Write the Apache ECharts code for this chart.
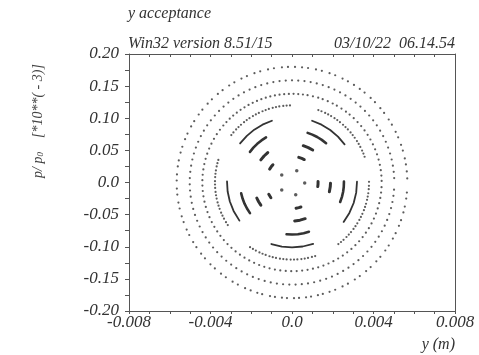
<!DOCTYPE html>
<html>
<head>
<meta charset="utf-8">
<script src="https://cdn.jsdelivr.net/npm/echarts@6/dist/echarts.min.js"></script>
<style>
  html, body { margin: 0; padding: 0; background: #fff; }
  #chart { width: 479px; height: 355px; }
</style>
</head>
<body>
<div id="chart"></div>
<script>
// Tracked particles in vertical phase space: one amplitude per ring.
// Ring amplitudes (y in m, p in units of 1e-3).
const ampY = [0.000623, 0.00128, 0.00189, 0.00255, 0.00319, 0.00378, 0.00440, 0.00502, 0.00566];
const ampP = [0.0198, 0.0405, 0.0599, 0.0810, 0.1010, 0.1200, 0.1380, 0.1590, 0.1800];

// Phase angles (degrees) of the turn-by-turn points.
const ring1Dots = [358, 68, 144, 216, 287];
const ring2Arcs = [[207, 211.5, 216], [279, 285, 290], [351, 356.5, 362], [62, 68, 75], [137, 143, 149]];
const ring3Arcs = [[204, 210, 216], [274, 282, 290], [346, 353.5, 359], [57.5, 65, 73], [129, 136.5, 144]];
const ring4Arcs = [[192, 198, 204, 210, 216], [264, 270, 276.5, 283, 289], [338, 344, 349.5, 355, 361], [49, 55, 61, 67, 72.5], [120, 126, 132, 138, 144]];
const ring5Arcs = [[179, 188, 197, 206, 216], [251.5, 261, 270, 279.5, 289], [322.6, 332, 341.6, 351, 360.7], [36, 45, 54, 63, 72], [108, 117, 125.5, 134, 143]];
const ring6Dots = [
  163, 165.5, 168, 171, 173.5, 176, 179, 181.5, 184, 187, 189.5, 192, 195, 197.5, 200, 203, 205.5, 208, 211, 213.5,
  237, 239.5, 242, 245, 247.5, 250, 253, 255.5, 258, 261, 263.5, 266, 269, 271.5, 274, 277, 279.5, 282, 285, 287.5,
  307, 309.5, 312, 315, 317.5, 320, 323, 325.5, 328, 331, 333.5, 336, 339, 341.5, 344, 347, 349.5, 352, 355, 357.5, 0.5,
  19.5, 22, 24.5, 27.5, 30, 32.5, 35.5, 38, 40.5, 43.5, 46, 48.5, 51.5, 54, 56.5, 59.5, 62, 64.5, 67.5, 70,
  91.5, 94, 96.5, 99.5, 102, 104.5, 107.5, 110, 112.5, 115.5, 118, 120.5, 123.5, 126, 128.5, 131.5, 134, 136.5, 139.5, 142
];
const ring7Dots = [
  1, 4.5, 8, 11.5, 15, 18.5, 22, 25.5, 29, 32.5, 36, 39.5, 43, 46.5, 50, 53, 56.5, 60, 63, 66.5,
  70, 73, 76.5, 80, 83, 86, 89, 92, 95, 98, 101, 104, 107, 110, 113, 116, 119, 122, 125, 128,
  131, 134, 137, 140, 143.5, 147, 150.5, 154, 157.5, 161, 164.5, 168, 171.5, 175, 178.5, 182, 185.5, 189, 192.5, 196,
  199.5, 203, 206.5, 210, 213.5, 217, 220.5, 224, 227.5, 231, 234.5, 238, 241.5, 245, 248.5, 252, 255.5, 259, 262.5, 266,
  269.5, 273, 276.5, 280, 283.5, 287, 290.5, 294, 297.5, 301, 304.5, 308, 311.5, 315, 318.5, 322, 325.5, 329, 332.5, 336,
  339.5, 343, 346.5, 350, 353.5, 357
];
const ring8Dots = [
  2.5, 6, 9.5, 13, 16.5, 20, 23.5, 27, 30.5, 34, 37.5, 41, 44.5, 48, 51.5, 55, 58.5, 62, 65.5, 69,
  72.5, 76, 79.5, 83, 86.5, 90, 93.5, 97, 100.5, 104, 107.5, 111, 114.5, 118, 121.5, 125, 128.5, 132, 135.5, 139,
  142.5, 146, 149.5, 153, 156.5, 160, 163.5, 167, 170.5, 174, 177.5, 181, 184.5, 188, 191.5, 195, 198.5, 202, 205.5, 209,
  212.5, 216, 219.5, 223, 226.5, 230, 233.5, 237, 240.5, 244, 247.5, 251, 254.5, 258, 261.5, 265, 268.5, 272, 275.5, 279,
  282.5, 286, 289.5, 293, 296.5, 300, 303.5, 307, 310.5, 314, 317.5, 321, 324.5, 328, 331.5, 335, 338.5, 342, 345.5, 349,
  352.5, 356
];
const ring9Dots = [
  2, 5.5, 9, 12, 16, 19, 23, 26, 30, 33, 37, 40, 44, 47, 51, 54, 57.5, 61, 64, 68,
  71, 75, 78, 82, 85, 88.5, 92, 95, 99, 102, 106, 109, 113, 116, 120, 123, 127, 130, 134, 137,
  141, 144, 148, 151, 155, 158, 162, 165, 169, 172, 176, 179, 183, 186, 190, 193, 197, 200, 204, 207,
  211, 214, 218, 221, 225, 228, 232, 235, 239, 242, 246, 249, 252.5, 255, 259, 261.5, 265, 267.5, 271, 273.5,
  277, 279.5, 283, 285.5, 289, 292, 296, 299, 303, 306, 310, 313, 317, 320, 324, 327, 331, 334, 338, 341,
  345, 348, 352, 355
];

// Tick label values
const xLabels = [-0.008, -0.004, 0.0, 0.004, 0.008];
const yLabels = [-0.20, -0.15, -0.10, -0.05, 0.0, 0.05, 0.10, 0.15, 0.20];

// phase angle -> (y, p) on ring k
function toYP(k, deg) {
  const a = deg * Math.PI / 180;
  return [ampY[k] * Math.cos(a), ampP[k] * Math.sin(a)];
}

const ink = '#333';
const FONT = 'Liberation Serif';
const series = [];

function addDots(k, angles, size) {
  series.push({
    type: 'scatter', symbol: 'circle', symbolSize: size,
    itemStyle: { color: ink },
    data: angles.map(d => toYP(k, d)), silent: true
  });
}
function addArcs(k, arcs, width) {
  arcs.forEach(arc => {
    series.push({
      type: 'line', showSymbol: false, symbol: 'none',
      lineStyle: { color: ink, width: width, cap: 'round' },
      data: arc.map(d => toYP(k, d)), silent: true
    });
  });
}

addDots(0, ring1Dots, 3.5);
addArcs(1, ring2Arcs, 3);
addArcs(2, ring3Arcs, 3);
addArcs(3, ring4Arcs, 2.6);
addArcs(4, ring5Arcs, 1.8);
addDots(5, ring6Dots, 2.2);
addDots(6, ring7Dots, 2.2);
addDots(7, ring8Dots, 2.2);
addDots(8, ring9Dots, 2.2);

function near(v, list) { return list.some(t => Math.abs(v - t) < 1e-9); }
function fmt(v, list, digits) {
  if (!near(v, list)) return '';
  if (Math.abs(v) < 1e-12) return '0.0';
  return v.toFixed(digits);
}

const labelStyle = { color: '#333', fontFamily: FONT, fontStyle: 'italic', fontSize: 17 };
const lineStyle = { color: '#555', width: 1 };

const chart = echarts.init(document.getElementById('chart'), null, { renderer: 'canvas' });
chart.setOption({
  animation: false,
  backgroundColor: '#fff',
  grid: { left: 129, right: 24, top: 54, bottom: 44, containLabel: false },
  xAxis: [
    {
      type: 'value', position: 'bottom', min: -0.008, max: 0.008, interval: 0.001,
      axisLine: { show: true, onZero: false, lineStyle: lineStyle },
      axisTick: { show: true, inside: false, length: 3, lineStyle: lineStyle },
      axisLabel: Object.assign({ margin: 3, showMinLabel: true, showMaxLabel: true,
        formatter: v => fmt(v, xLabels, 3) }, labelStyle),
      splitLine: { show: false }
    },
    {
      type: 'value', position: 'top', min: -0.008, max: 0.008, interval: 0.001,
      axisLine: { show: true, onZero: false, lineStyle: lineStyle },
      axisTick: { show: true, inside: true, length: 3, lineStyle: lineStyle },
      axisLabel: { show: false }, splitLine: { show: false }
    }
  ],
  yAxis: [
    {
      type: 'value', position: 'left', min: -0.2, max: 0.2, interval: 0.025,
      axisLine: { show: true, onZero: false, lineStyle: lineStyle },
      axisTick: { show: true, inside: false, length: 4, lineStyle: lineStyle },
      axisLabel: Object.assign({ margin: 10, showMinLabel: true, showMaxLabel: true,
        formatter: v => fmt(v, yLabels, 2) }, labelStyle),
      splitLine: { show: false }
    },
    {
      type: 'value', position: 'right', min: -0.2, max: 0.2, interval: 0.025,
      axisLine: { show: true, onZero: false, lineStyle: lineStyle },
      axisTick: { show: false }, axisLabel: { show: false }, splitLine: { show: false }
    }
  ],
  series: series,
  graphic: [
    { type: 'text', left: 128, top: 6, silent: true,
      style: { text: 'y acceptance', fill: '#333', font: 'italic 16px "Liberation Serif"' } },
    { type: 'text', left: 128, top: 36, silent: true,
      style: { text: 'Win32 version 8.51/15', fill: '#333', font: 'italic 16px "Liberation Serif"' } },
    { type: 'text', right: 24, top: 36, silent: true,
      style: { text: '03/10/22  06.14.54', fill: '#333', font: 'italic 16px "Liberation Serif"' } },
    { type: 'text', right: 24, top: 337, silent: true,
      style: { text: 'y (m)', fill: '#333', font: 'italic 16px "Liberation Serif"' } },
    { type: 'text', x: 38, y: 121, rotation: Math.PI / 2, silent: true,
      style: {
        text: '{a|p/ p}{s|0}{a|    [*10**( - 3)]}',
        align: 'center', verticalAlign: 'middle', fill: '#444',
        rich: {
          a: { fontFamily: FONT, fontStyle: 'italic', fontSize: 14, fill: '#444' },
          s: { fontFamily: FONT, fontStyle: 'italic', fontSize: 9, fill: '#444', verticalAlign: 'bottom', padding: [6, 0, 0, 0] }
        }
      } }
  ]
});
</script>
</body>
</html>
